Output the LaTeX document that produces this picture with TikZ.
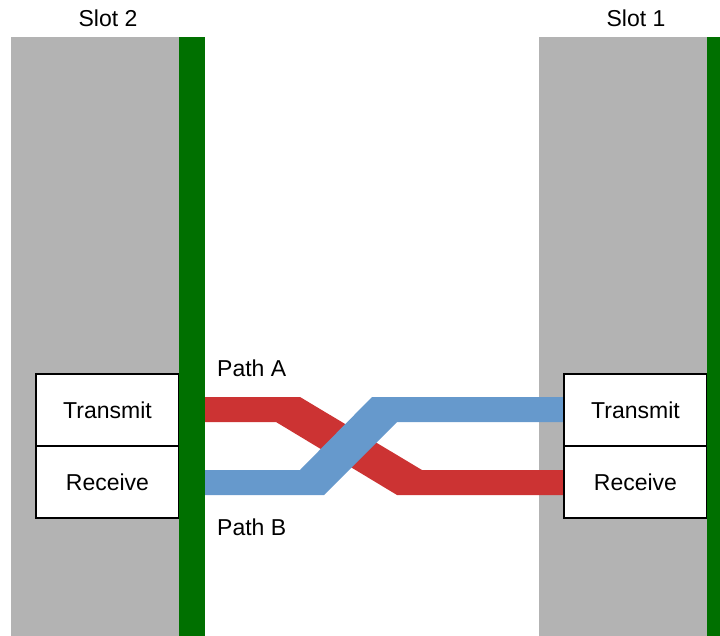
\documentclass[tikz,border=0pt]{standalone}
\usepackage{fontspec}
\setmainfont{Liberation Sans}
\usepackage{tikz}
\usetikzlibrary{positioning}
\definecolor{slotgray}{HTML}{B3B3B3}
\definecolor{railgreen}{HTML}{007000}
\definecolor{pathred}{HTML}{CC3333}
\definecolor{pathblue}{HTML}{6699CC}

\begin{document}
\begin{tikzpicture}[x=1pt, y=-1pt,
                    font=\fontsize{23}{27}\selectfont,
                    port/.style={draw=black, line width=1.4pt, fill=white,
                                 minimum width=143pt, minimum height=72pt,
                                 inner sep=0pt, outer sep=0pt},
                    lbl/.style={inner sep=0pt}]
  \useasboundingbox (0,0) rectangle (720,636);
  \clip (0,0) rectangle (720,636);
  \def\top{37}
  \def\bot{636}

  % SLOT BODIES
  \fill[slotgray] (11,\top) rectangle (180,\bot);
  \fill[slotgray] (539,\top) rectangle (708,\bot);

  % crossing paths (red under blue)
  \fill[pathred]  (205,397) -- (300,397) -- (422,470) -- (564,470)
                  -- (564,495) -- (397,495) -- (276,422) -- (205,422) -- cycle;
  \fill[pathblue] (205,470) -- (300,470) -- (372,397) -- (564,397)
                  -- (564,422) -- (397,422) -- (324,495) -- (205,495) -- cycle;

  % PORTS
  \node[port, anchor=north west] (tx2) at (36,374) {Transmit};
  \node[port, below=0pt of tx2]  (rx2) {Receive};
  \node[port, anchor=north west] (tx1) at (564,374) {Transmit};
  \node[port, below=0pt of tx1]  (rx1) {Receive};

  % connector rails
  \fill[railgreen] (179,\top) rectangle (205,\bot);
  \fill[railgreen] (707,\top) rectangle (733,\bot);

  % labels
  \node[lbl] (slot2) at (108,18) {Slot 2};
  \node[lbl] (slot1) at (636,18) {Slot 1};
  \node[lbl, anchor=west] (pathA) at (217,368) {Path A};
  \node[lbl, anchor=west] (pathB) at (217,527) {Path B};
\end{tikzpicture}
\end{document}
